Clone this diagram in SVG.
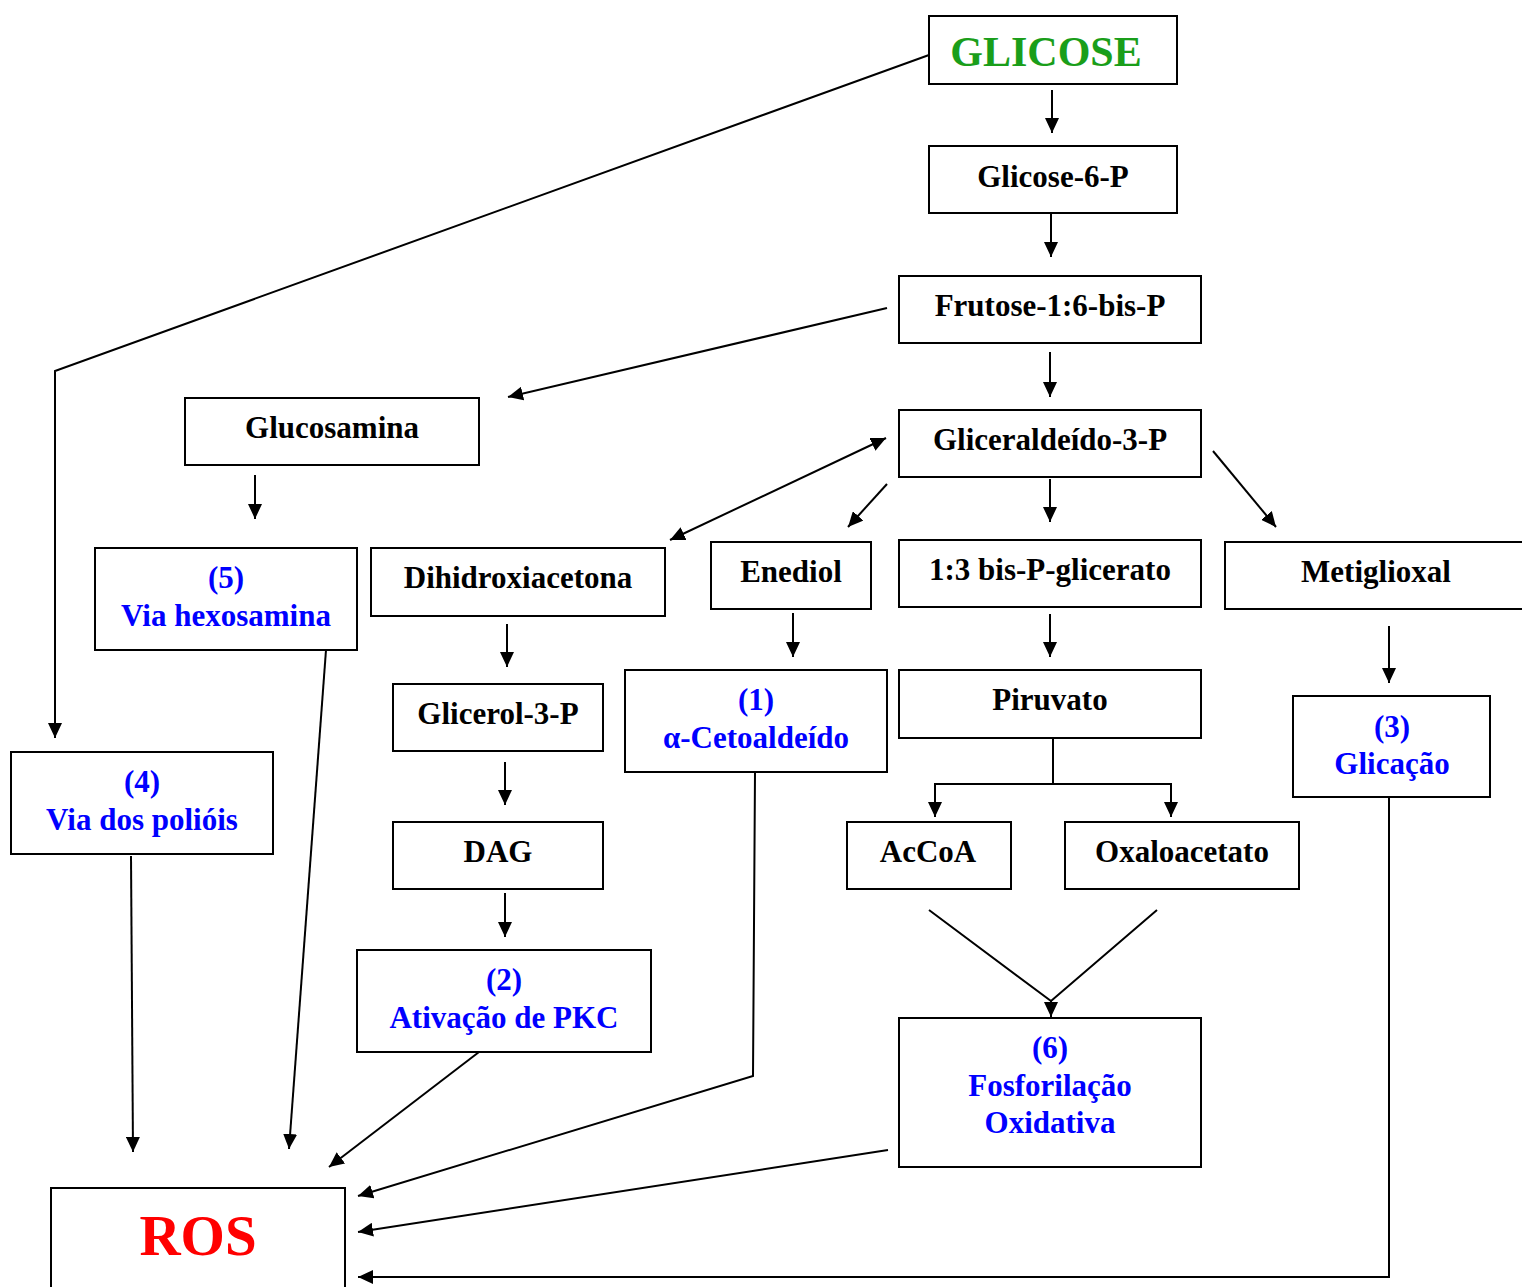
<svg xmlns="http://www.w3.org/2000/svg" width="1522" height="1287" viewBox="0 0 1522 1287">
<defs>
<marker id="ah" viewBox="0 0 15 14" refX="15" refY="7" markerWidth="15" markerHeight="14" markerUnits="userSpaceOnUse" orient="auto-start-reverse">
<path d="M0,0 L15,7 L0,14 Z" fill="#000"/>
</marker>
</defs>
<style>
rect{fill:#fff;stroke:#000;stroke-width:2}
text{font-family:"Liberation Serif","Times New Roman",serif;font-weight:bold;text-anchor:middle;font-size:31px;fill:#000}
.b{fill:#0000ff}
.g{fill:#1a9e1a;font-size:42px}
.r{fill:#ff0000;font-size:57px}
#connectors path{fill:none;stroke:#000;stroke-width:2}
.a{marker-end:url(#ah)}
</style>
<rect x="0" y="0" width="1522" height="1287" style="fill:#fff;stroke:none"/>
<g id="connectors">
<path class="a" d="M929,55 L55,371 L55,738"/>
<path class="a" d="M1052,90 L1052,133"/>
<path class="a" d="M1051,214 L1051,257"/>
<path class="a" d="M1050,352 L1050,397"/>
<path class="a" d="M887,308 L508,397"/>
<path class="a" d="M670,540 L886,438" style="marker-start:url(#ah)"/>
<path class="a" d="M887,484 L848,527"/>
<path class="a" d="M1050,479 L1050,522"/>
<path class="a" d="M1213,451 L1276,527"/>
<path class="a" d="M255,475 L255,519"/>
<path class="a" d="M507,624 L507,667"/>
<path class="a" d="M793,613 L793,657"/>
<path class="a" d="M1050,614 L1050,657"/>
<path class="a" d="M1389,626 L1389,683"/>
<path class="a" d="M505,762 L505,805"/>
<path class="a" d="M505,893 L505,937"/>
<path d="M1053,738 L1053,784"/>
<path class="a" d="M1053,784 L935,784 L935,817"/>
<path class="a" d="M1053,784 L1171,784 L1171,817"/>
<path d="M929,910 L1051,1001 L1157,910"/>
<path class="a" d="M1051,1001 L1051,1017"/>
<path class="a" d="M326,650 L289,1149"/>
<path class="a" d="M131,856 L133,1152"/>
<path class="a" d="M479,1052 L329,1167"/>
<path class="a" d="M755,772 L753,1076 L358,1196"/>
<path class="a" d="M888,1150 L358,1232"/>
<path class="a" d="M1389,797 L1389,1277 L358,1277"/>
</g>
<g id="glicose"><rect x="929" y="16" width="248" height="68"/><text class="g" x="1046" y="66">GLICOSE</text></g>
<g id="glicose6p"><rect x="929" y="146" width="248" height="67"/><text x="1053" y="187">Glicose-6-P</text></g>
<g id="frutose"><rect x="899" y="276" width="302" height="67"/><text x="1050" y="316">Frutose-1:6-bis-P</text></g>
<g id="gliceraldeido"><rect x="899" y="410" width="302" height="67"/><text x="1050" y="450">Gliceraldeído-3-P</text></g>
<g id="glucosamina"><rect x="185" y="398" width="294" height="67"/><text x="332" y="438">Glucosamina</text></g>
<g id="hexosamina"><rect x="95" y="548" width="262" height="102"/><text class="b" x="226" y="588">(5)</text><text class="b" x="226" y="626">Via hexosamina</text></g>
<g id="dihidroxiacetona"><rect x="371" y="548" width="294" height="68"/><text x="518" y="588">Dihidroxiacetona</text></g>
<g id="enediol"><rect x="711" y="542" width="160" height="67"/><text x="791" y="582">Enediol</text></g>
<g id="bisPglicerato"><rect x="899" y="540" width="302" height="67"/><text x="1050" y="580">1:3 bis-P-glicerato</text></g>
<g id="metiglioxal"><rect x="1225" y="542" width="302" height="67"/><text x="1376" y="582">Metiglioxal</text></g>
<g id="glicerol3p"><rect x="393" y="684" width="210" height="67"/><text x="498" y="724">Glicerol-3-P</text></g>
<g id="cetoaldeido"><rect x="625" y="670" width="262" height="102"/><text class="b" x="756" y="710">(1)</text><text class="b" x="756" y="748">α-Cetoaldeído</text></g>
<g id="piruvato"><rect x="899" y="670" width="302" height="68"/><text x="1050" y="710">Piruvato</text></g>
<g id="glicacao"><rect x="1293" y="696" width="197" height="101"/><text class="b" x="1392" y="737">(3)</text><text class="b" x="1392" y="774">Glicação</text></g>
<g id="poliois"><rect x="11" y="752" width="262" height="102"/><text class="b" x="142" y="792">(4)</text><text class="b" x="142" y="830">Via dos polióis</text></g>
<g id="dag"><rect x="393" y="822" width="210" height="67"/><text x="498" y="862">DAG</text></g>
<g id="accoa"><rect x="847" y="822" width="164" height="67"/><text x="928" y="862">AcCoA</text></g>
<g id="oxaloacetato"><rect x="1065" y="822" width="234" height="67"/><text x="1182" y="862">Oxaloacetato</text></g>
<g id="pkc"><rect x="357" y="950" width="294" height="102"/><text class="b" x="504" y="990">(2)</text><text class="b" x="504" y="1028">Ativação de PKC</text></g>
<g id="fosforilacao"><rect x="899" y="1018" width="302" height="149"/><text class="b" x="1050" y="1058">(6)</text><text class="b" x="1050" y="1096">Fosforilação</text><text class="b" x="1050" y="1133">Oxidativa</text></g>
<g id="ros"><rect x="51" y="1188" width="294" height="110"/><text class="r" x="198" y="1255">ROS</text></g>
</svg>
